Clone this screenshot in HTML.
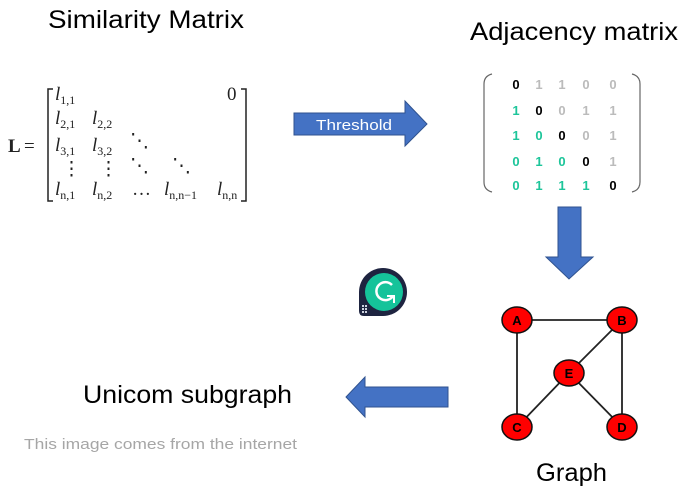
<!DOCTYPE html>
<html><head><meta charset="utf-8"><style>
body{margin:0;background:#fff;}
svg{display:block;}
</style></head><body>
<svg width="687" height="492" viewBox="0 0 687 492" xmlns="http://www.w3.org/2000/svg" font-family="Liberation Sans, sans-serif">
<rect width="687" height="492" fill="#fff"/>
<text x="48" y="28" font-size="25" fill="#000" textLength="196" lengthAdjust="spacingAndGlyphs">Similarity Matrix</text>
<text x="470" y="40" font-size="25" fill="#000" textLength="208" lengthAdjust="spacingAndGlyphs">Adjacency matrix</text>
<text x="83" y="403" font-size="25" fill="#000" textLength="209" lengthAdjust="spacingAndGlyphs">Unicom subgraph</text>
<text x="536" y="481" font-size="25" fill="#000" textLength="71" lengthAdjust="spacingAndGlyphs">Graph</text>
<text x="24" y="449" font-size="15" fill="#a6a6a6" textLength="273" lengthAdjust="spacingAndGlyphs">This image comes from the internet</text>

<!-- L matrix -->
<g font-family="Liberation Serif, serif" font-size="19" fill="#222">
<text x="8" y="152" font-weight="bold" font-size="19">L</text>
<text x="24" y="152" font-size="19">=</text>
<path d="M53 89 H48 V201 H53" fill="none" stroke="#222" stroke-width="1.5"/>
<path d="M241 89 H246 V201 H241" fill="none" stroke="#222" stroke-width="1.5"/>
<g font-style="italic">
<text x="55" y="100">l<tspan font-size="12" dy="4" font-style="normal">1,1</tspan></text>
<text x="55" y="124">l<tspan font-size="12" dy="4" font-style="normal">2,1</tspan></text>
<text x="92" y="124">l<tspan font-size="12" dy="4" font-style="normal">2,2</tspan></text>
<text x="55" y="151">l<tspan font-size="12" dy="4" font-style="normal">3,1</tspan></text>
<text x="92" y="151">l<tspan font-size="12" dy="4" font-style="normal">3,2</tspan></text>
<text x="55" y="195">l<tspan font-size="12" dy="4" font-style="normal">n,1</tspan></text>
<text x="92" y="195">l<tspan font-size="12" dy="4" font-style="normal">n,2</tspan></text>
<text x="164" y="195">l<tspan font-size="12" dy="4" font-style="normal">n,n−1</tspan></text>
<text x="217" y="195">l<tspan font-size="12" dy="4" font-style="normal">n,n</tspan></text>
</g>
<text x="227" y="100">0</text>
<text x="130" y="147">⋱</text>
<text x="62" y="175">⋮</text>
<text x="99" y="175">⋮</text>
<text x="130" y="172">⋱</text>
<text x="172" y="172">⋱</text>
<text x="132" y="195">…</text>
</g>

<!-- Threshold arrow -->
<polygon points="294,113 405,113 405,101 427,124 405,146 405,135 294,135" fill="#4472c4" stroke="#2f528f" stroke-width="1"/>
<text x="316" y="130" font-size="15" fill="#fff" textLength="76" lengthAdjust="spacingAndGlyphs">Threshold</text>

<!-- Adjacency matrix -->
<path d="M492 74 Q484 76 484 84 V182 Q484 190 492 192" fill="none" stroke="#666" stroke-width="1.2"/>
<path d="M632 74 Q640 76 640 84 V182 Q640 190 632 192" fill="none" stroke="#666" stroke-width="1.2"/>
<g font-size="13" font-weight="bold" text-anchor="middle">
<text x="516" y="89" fill="#000">0</text><text x="539" y="89" fill="#bbb">1</text><text x="562" y="89" fill="#bbb">1</text><text x="586" y="89" fill="#bbb">0</text><text x="613" y="89" fill="#bbb">0</text>
<text x="516" y="115" fill="#1dc59a">1</text><text x="539" y="115" fill="#000">0</text><text x="562" y="115" fill="#bbb">0</text><text x="586" y="115" fill="#bbb">1</text><text x="613" y="115" fill="#bbb">1</text>
<text x="516" y="140" fill="#1dc59a">1</text><text x="539" y="140" fill="#1dc59a">0</text><text x="562" y="140" fill="#000">0</text><text x="586" y="140" fill="#bbb">0</text><text x="613" y="140" fill="#bbb">1</text>
<text x="516" y="166" fill="#1dc59a">0</text><text x="539" y="166" fill="#1dc59a">1</text><text x="562" y="166" fill="#1dc59a">0</text><text x="586" y="166" fill="#000">0</text><text x="613" y="166" fill="#bbb">1</text>
<text x="516" y="190" fill="#1dc59a">0</text><text x="539" y="190" fill="#1dc59a">1</text><text x="562" y="190" fill="#1dc59a">1</text><text x="586" y="190" fill="#1dc59a">1</text><text x="613" y="190" fill="#000">0</text>
</g>

<!-- down arrow -->
<polygon points="558,207 581,207 581,257 593,257 569,279 546,257 558,257" fill="#4472c4" stroke="#2f528f" stroke-width="1"/>
<!-- left arrow -->
<polygon points="448,387 448,407 365,407 365,417 346,397 365,377 365,387" fill="#4472c4" stroke="#2f528f" stroke-width="1"/>

<!-- grammarly -->
<path d="M383 268 A24 24 0 1 1 383 316 H364 Q359 316 359 311 V292 A24 24 0 0 1 383 268 Z" fill="#1e2440"/>
<circle cx="384" cy="292" r="19" fill="#15c39a"/>
<path d="M392 285 A9 9 0 1 0 393 296" fill="none" stroke="#fff" stroke-width="2.5"/>
<path d="M387 296 H394 V303" fill="none" stroke="#fff" stroke-width="2"/>
<g fill="#cfd3e0"><rect x="362" y="305" width="2" height="2"/><rect x="365" y="305" width="2" height="2"/><rect x="362" y="308" width="2" height="2"/><rect x="365" y="308" width="2" height="2"/><rect x="362" y="311" width="2" height="2"/><rect x="365" y="311" width="2" height="2"/></g>

<!-- graph -->
<g stroke="#222" stroke-width="1.8">
<line x1="517" y1="320" x2="622" y2="320"/>
<line x1="517" y1="320" x2="517" y2="427"/>
<line x1="622" y1="320" x2="622" y2="427"/>
<line x1="622" y1="320" x2="569" y2="373"/>
<line x1="569" y1="373" x2="517" y2="427"/>
<line x1="569" y1="373" x2="622" y2="427"/>
</g>
<g fill="#ff0000" stroke="#111" stroke-width="1.5">
<ellipse cx="517" cy="320" rx="15" ry="13"/>
<ellipse cx="622" cy="320" rx="15" ry="13"/>
<ellipse cx="569" cy="373" rx="15" ry="13"/>
<ellipse cx="517" cy="427" rx="15" ry="13"/>
<ellipse cx="622" cy="427" rx="15" ry="13"/>
</g>
<g font-size="13" font-weight="bold" text-anchor="middle" fill="#000">
<text x="517" y="325">A</text><text x="622" y="325">B</text><text x="569" y="378">E</text><text x="517" y="432">C</text><text x="622" y="432">D</text>
</g>
</svg>
</body></html>
